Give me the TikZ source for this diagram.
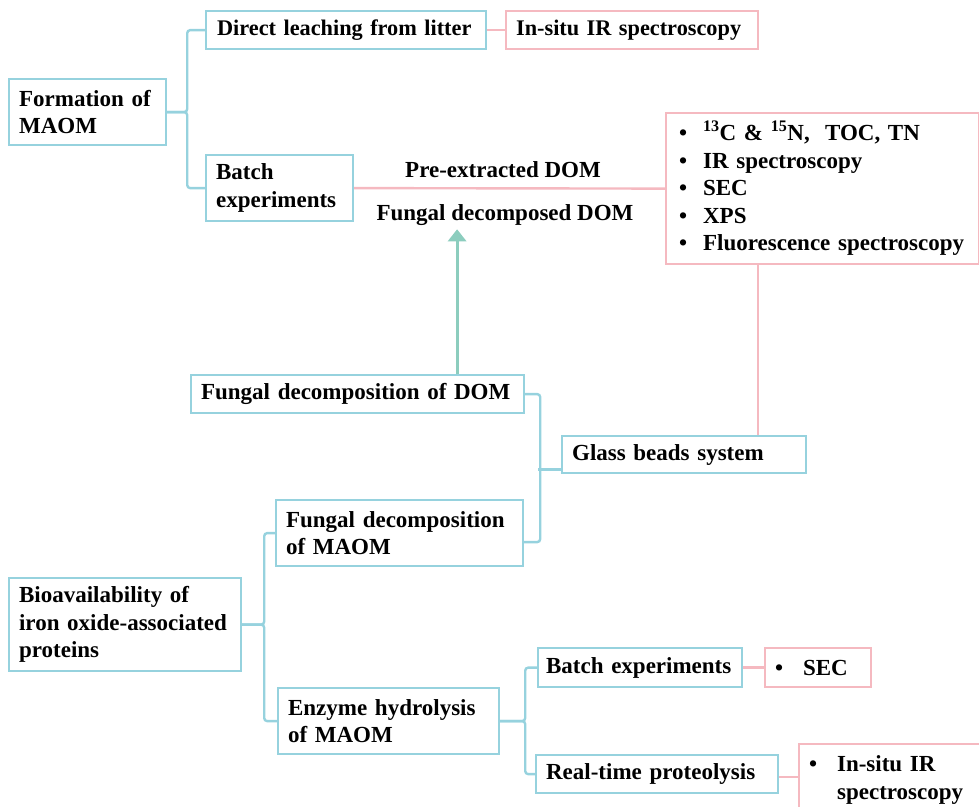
\documentclass[tikz,border=0pt]{standalone}
\usepackage{fontspec}
\setmainfont{Liberation Serif}
\usetikzlibrary{arrows.meta}
\definecolor{mapblue}{RGB}{150,210,222}
\definecolor{mappink}{RGB}{245,185,192}
\definecolor{mapgreen}{RGB}{140,205,190}
\tikzset{
        boxnode/.style={rectangle, align=left, anchor=north west, inner xsep=10pt, inner ysep=0pt, line width=2.2pt, font=\fontsize{23}{27.5}\selectfont\bfseries},
        % Topic and method boxes
        node_method/.style={boxnode, draw=mapblue},
        % Measurement boxes
        node_measure/.style={boxnode, draw=mappink},
        % Narrower type for the top row
        node_narrow/.style={font=\fontsize{22.3}{27.5}\selectfont\bfseries},
        % Labels along a connector
        node_label/.style={align=center, anchor=base, inner sep=4pt, font=\fontsize{23}{27.5}\selectfont\bfseries}
}

\begin{document}
\begin{tikzpicture}[
            x=1pt, y=-1pt,
            link_blue/.style={draw=mapblue, line width=2.4pt, rounded corners=3pt},
            link_pink/.style={draw=mappink, line width=2.4pt},
            arrow_fungal/.style={draw=mapgreen, line width=3pt, -{Triangle[width=18pt,length=12pt]}}
        ]
            \useasboundingbox (0,0) rectangle (979,806);
            % Formation of MAOM
            \node[node_method, text width=137pt, minimum height=66pt] (formation) at (8,78) {Formation of\\MAOM};
            \node[node_method, node_narrow, inner xsep=11pt, text width=258pt, minimum height=38pt] (leaching) at (205,10) {Direct leaching from litter};
            \node[node_measure, node_narrow, text width=232pt, minimum height=38pt] (insitu_top) at (505,10) {In-situ IR spectroscopy};
            \node[node_method, text width=127pt, minimum height=66pt] (batch_top) at (205,154) {Batch\\experiments};
            \node[node_measure, inner xsep=13pt, text width=287pt, minimum height=151pt] (methods) at (665,112) {%
                \makebox[24pt][l]{\textbullet}\textsuperscript{13}C \& \textsuperscript{15}N,\ \ TOC, TN\\
                \makebox[24pt][l]{\textbullet}IR spectroscopy\\
                \makebox[24pt][l]{\textbullet}SEC\\
                \makebox[24pt][l]{\textbullet}XPS\\
                \makebox[24pt][l]{\textbullet}Fluorescence spectroscopy};
            \node[node_label] (dom_pre) at (503,177) {Pre-extracted DOM};
            \node[node_label] (dom_fungal) at (505,220) {Fungal decomposed DOM};

            % Glass beads system
            \node[node_method, text width=313pt, minimum height=38pt] (fdom) at (190,374) {Fungal decomposition of DOM};
            \node[node_method, text width=224pt, minimum height=37pt] (glass) at (561,435) {Glass beads system};
            \node[node_method, text width=227pt, minimum height=66pt] (fmaom) at (275,499) {Fungal decomposition\\of MAOM};

            % Bioavailability of proteins
            \node[node_method, text width=212pt, minimum height=93pt] (bio) at (8,577) {Bioavailability of\\iron oxide-associated\\proteins};
            \node[node_method, text width=201pt, minimum height=66pt] (enzyme) at (277,687) {Enzyme hydrolysis\\of MAOM};
            \node[node_method, inner xsep=8pt, text width=188pt, minimum height=39pt] (batch_bot) at (537,647) {Batch experiments};
            \node[node_measure, text width=86pt, minimum height=39pt] (sec) at (764,647) {\makebox[28pt][l]{\textbullet}SEC};
            \node[node_method, text width=222pt, minimum height=38pt] (realtime) at (535,754) {Real-time proteolysis};
            \node[node_measure, text width=161pt, minimum height=72pt] (insitu_bot) at (798,743) {%
                \begin{tabular}{@{}l@{}l@{}}\makebox[28pt][l]{\textbullet} & In-situ IR\\ & spectroscopy\end{tabular}};

            % blue tree links
            \draw[link_blue] (formation.east) -- ++(20,0) |- (leaching.west);
            \draw[link_blue] (formation.east) -- ++(20,0) |- (batch_top.west);
            \draw[link_blue] (fdom.east) -- ++(15,0) |- ([yshift=-9pt]fmaom.east);
            \draw[link_blue] ([yshift=-15pt]glass.west) -- ++(-23,0);
            \draw[link_blue] (bio.east) -- ++(22,0) |- (fmaom.west);
            \draw[link_blue] (bio.east) -- ++(22,0) |- (enzyme.west);
            \draw[link_blue] (enzyme.east) -- ++(25,0) |- (batch_bot.west);
            \draw[link_blue] (enzyme.east) -- ++(25,0) |- (realtime.west);

            % pink links to measurements
            \draw[link_pink] (leaching.east) -- (insitu_top.west);
            \draw[link_pink] (batch_top.east) -- (methods.west);
            \draw[link_pink] ([xshift=-64.5pt]methods.south) -- ([xshift=-64.5pt]methods.south |- glass.north);
            \draw[link_pink] (batch_bot.east) -- (sec.west);
            \draw[link_pink] ([yshift=-3pt]realtime.east) -- ([yshift=-3pt]realtime.east -| insitu_bot.west);

            % fungal decomposition feeds the batch experiments
            \draw[arrow_fungal] ([xshift=99.5pt]fdom.north) -- ([xshift=99.5pt]fdom.north |- dom_fungal.south);
\end{tikzpicture}
\end{document}
